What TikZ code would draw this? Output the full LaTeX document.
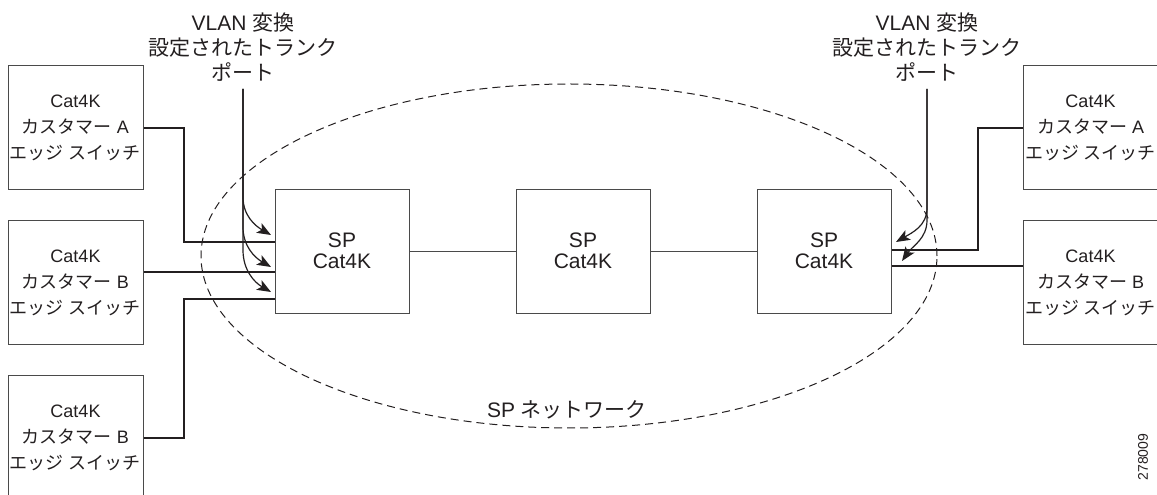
\documentclass[tikz,border=0pt]{standalone}
\usepackage{fontspec}
\setmainfont{Liberation Sans}
\newfontfamily\jp{Noto Sans CJK JP}
\usetikzlibrary{arrows.meta}
\definecolor{ink}{HTML}{231F20}
\definecolor{boxgray}{HTML}{4A4A4A}
\begin{document}
\begin{tikzpicture}[x=1pt,y=1pt,
  custbox/.style={draw=boxgray, line width=1pt, minimum width=135pt, minimum height=124pt,
    align=center, inner sep=0pt, font=\fontsize{18}{26}\selectfont, text=ink},
  spbox/.style={custbox, minimum width=134pt, font=\fontsize{21}{25}\selectfont},
  conn/.style={draw=ink, line width=2pt},
  link/.style={draw=boxgray, line width=1pt},
  lbl/.style={align=center, font=\fontsize{21}{25}\selectfont, text=ink},
  callout/.style={draw=ink, line width=1.2pt, -{Stealth[length=14pt,width=11pt,inset=3.5pt]}},
  net/.style={draw=ink, line width=1pt, dash pattern=on 8pt off 5pt}
]
\useasboundingbox (0,0) rectangle (1157,495);

% customer boxes left
\node[custbox] (cA1) at (75.5,367) {Cat4K\\{\jp カスタマー}~A\\{\jp エッジ}~{\jp スイッチ}};
\node[custbox] (cB1) at (75.5,212) {Cat4K\\{\jp カスタマー}~B\\{\jp エッジ}~{\jp スイッチ}};
\node[custbox] (cB2) at (75.5,57) {Cat4K\\{\jp カスタマー}~B\\{\jp エッジ}~{\jp スイッチ}};

% customer boxes right
\node[custbox] (rA) at (1090.5,367) {Cat4K\\{\jp カスタマー}~A\\{\jp エッジ}~{\jp スイッチ}};
\node[custbox] (rB) at (1090.5,212) {Cat4K\\{\jp カスタマー}~B\\{\jp エッジ}~{\jp スイッチ}};

% SP boxes
\node[spbox] (sp1) at (342,243) {\raisebox{3pt}{\shortstack{SP\\[3pt]Cat4K}}};
\node[spbox] (sp2) at (583,243) {\raisebox{3pt}{\shortstack{SP\\[3pt]Cat4K}}};
\node[spbox] (sp3) at (824,243) {\raisebox{3pt}{\shortstack{SP\\[3pt]Cat4K}}};

% SP network ellipse
\draw[net] (569,239) ellipse [x radius=368, y radius=172];
\node[lbl] (netlbl) at (567,85) {SP {\jp ネットワーク}};

% links between SP boxes
\draw[link] (sp1.east) -- (sp2.west);
\draw[link] (sp2.east) -- (sp3.west);

% customer connections left
\draw[conn] (cA1.east) -- ++(40,0) |- ([yshift=10pt]sp1.west);
\draw[conn] ([yshift=11pt]cB1.east) -- ([yshift=11pt]cB1.east -| sp1.west);
\draw[conn] (cB2.east) -- ++(40,0) |- ([yshift=-47pt]sp1.west);

% customer connections right
\draw[conn] (rA.west) -- ++(-45,0) |- ([yshift=2pt]sp3.east);
\draw[conn] ([yshift=-14pt]sp3.east) -- ([yshift=-14pt]sp3.east -| rB.west);

% labels
\node[lbl] (lblL) at (243,448) {VLAN {\jp 変換}\\{\jp 設定されたトランク}\\{\jp ポート}};
\node[lbl] (lblR) at (927,448) {VLAN {\jp 変換}\\{\jp 設定されたトランク}\\{\jp ポート}};

% callout arrows left
\coordinate (tL) at (243,406);
\coordinate (a1) at (271,260);
\coordinate (a2) at (271,228);
\coordinate (a3) at (271,203);
\draw[callout] (tL) -- (243,298) to[out=-90,in=150] (a1);
\draw[callout] (tL) -- (243,268) to[out=-90,in=150] (a2);
\draw[callout] (tL) -- (243,245) to[out=-90,in=150] (a3);

% callout arrows right
\coordinate (tR) at (927,406);
\coordinate (b1) at (896,253);
\coordinate (b2) at (902,234);
\draw[callout] (tR) -- (927,287) to[out=-90,in=30] (b1);
\draw[callout] (tR) -- (927,275) to[out=-90,in=55] (b2);

% figure number
\node[rotate=90, font=\fontsize{14}{14}\selectfont, text=ink] (fignum) at (1143,38) {278009};
\end{tikzpicture}
\end{document}
